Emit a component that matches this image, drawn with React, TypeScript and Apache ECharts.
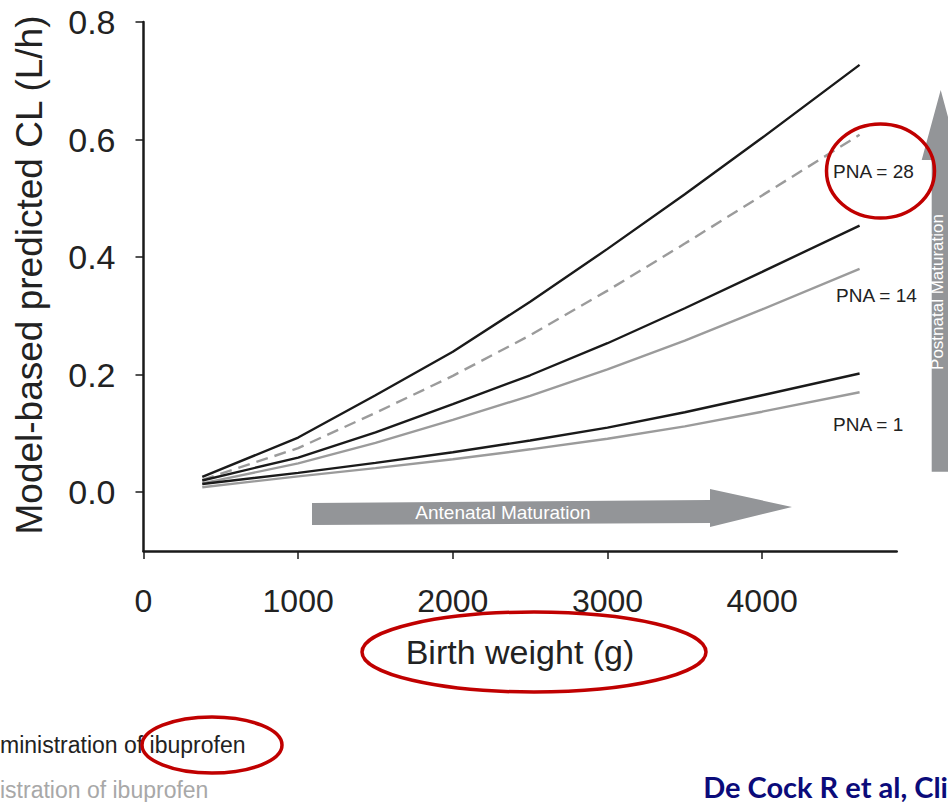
import React, { useEffect, useRef } from "react";
import * as echarts from "echarts";

// Birth weight (g) grid at which the predicted clearance is read
const birthWeight = [380, 1000, 1500, 2000, 2500, 3000, 3500, 4000, 4630];

// Model-based predicted CL (L/h)
const pna28Iv = [0.026, 0.093, 0.165, 0.239, 0.324, 0.414, 0.507, 0.603, 0.727];
const pna28Oral = [0.021, 0.075, 0.135, 0.198, 0.267, 0.343, 0.423, 0.505, 0.608];
const pna14Iv = [0.02, 0.059, 0.102, 0.15, 0.199, 0.2535, 0.313, 0.375, 0.4535];
const pna14Oral = [0.015, 0.049, 0.084, 0.123, 0.164, 0.209, 0.258, 0.311, 0.38];
const pna1Iv = [0.014, 0.033, 0.05, 0.068, 0.088, 0.11, 0.136, 0.165, 0.202];
const pna1Oral = [0.0085, 0.027, 0.041, 0.056, 0.073, 0.091, 0.112, 0.137, 0.17];

const xTicks = [0, 1000, 2000, 3000, 4000];
const yTicks = [0, 0.2, 0.4, 0.6, 0.8];

const pnaLabels = ["PNA = 28", "PNA = 14", "PNA = 1"];

const FONT = "'Liberation Sans', Arial, Helvetica, sans-serif";
const BLACK = "#1a1a1a";
const GREY = "#9b9b9b";
const ARROW = "#939598";
const RED = "#c00000";

const pairs = (ys: number[]) => birthWeight.map((x, i) => [x, ys[i]]);

export default function App() {
  const ref = useRef<HTMLDivElement>(null);

  useEffect(() => {
    if (!ref.current) return;
    const chart = echarts.init(ref.current, undefined, { renderer: "svg" });

    const lineSeries = (name: string, ys: number[], color: string, dashed = false) => ({
      name,
      type: "line",
      data: pairs(ys),
      symbol: "none",
      smooth: false,
      lineStyle: { color, width: 2.4, type: dashed ? [12, 7] : "solid" },
      z: color === BLACK ? 3 : 2,
    });

    chart.setOption({
      animation: false,
      backgroundColor: "#ffffff",
      grid: { left: 143.5, top: 22, right: 51.3, bottom: 251, containLabel: false },
      xAxis: {
        type: "value",
        min: 0,
        max: 4870,
        axisLine: { show: true, onZero: false, lineStyle: { color: BLACK, width: 2.5 } },
        axisTick: {
          show: true,
          customValues: xTicks,
          length: 8,
          lineStyle: { color: BLACK, width: 1.5 },
        },
        axisLabel: {
          customValues: xTicks,
          margin: 34,
          fontSize: 32,
          color: "#222",
          fontFamily: FONT,
          formatter: (v: number) => String(v),
        },
        splitLine: { show: false },
      },
      yAxis: {
        type: "value",
        min: -0.1,
        max: 0.8,
        axisLine: { show: true, onZero: false, lineStyle: { color: BLACK, width: 2.5 } },
        axisTick: {
          show: true,
          customValues: yTicks,
          length: 8,
          lineStyle: { color: BLACK, width: 1.5 },
        },
        axisLabel: {
          customValues: yTicks,
          margin: 28,
          fontSize: 34,
          color: "#222",
          fontFamily: FONT,
          formatter: (v: number) => v.toFixed(1),
        },
        splitLine: { show: false },
      },
      series: [
        lineSeries("PNA 28 IV", pna28Iv, BLACK),
        lineSeries("PNA 28 oral", pna28Oral, GREY, true),
        lineSeries("PNA 14 IV", pna14Iv, BLACK),
        lineSeries("PNA 14 oral", pna14Oral, GREY),
        lineSeries("PNA 1 IV", pna1Iv, BLACK),
        lineSeries("PNA 1 oral", pna1Oral, GREY),
      ],
      graphic: [
        // axis titles
        {
          type: "text",
          x: 29,
          y: 275,
          rotation: Math.PI / 2,
          style: {
            text: "Model-based predicted CL (L/h)",
            fontSize: 37,
            fontFamily: FONT,
            fill: "#222",
            align: "center",
            verticalAlign: "middle",
          },
        },
        {
          type: "text",
          x: 520,
          y: 652,
          style: {
            text: "Birth weight (g)",
            fontSize: 34,
            fontFamily: FONT,
            fill: "#222",
            align: "center",
            verticalAlign: "middle",
          },
        },
        // PNA labels
        {
          type: "text",
          x: 833,
          y: 171,
          style: { text: pnaLabels[0], fontSize: 19, fontFamily: FONT, fill: "#222", align: "left", verticalAlign: "middle" },
        },
        {
          type: "text",
          x: 836,
          y: 295,
          style: { text: pnaLabels[1], fontSize: 19, fontFamily: FONT, fill: "#222", align: "left", verticalAlign: "middle" },
        },
        {
          type: "text",
          x: 833,
          y: 424,
          style: { text: pnaLabels[2], fontSize: 19, fontFamily: FONT, fill: "#222", align: "left", verticalAlign: "middle" },
        },
        // Antenatal maturation arrow
        {
          type: "polygon",
          shape: {
            points: [
              [312, 503],
              [710, 500],
              [710, 489],
              [792, 507],
              [710, 527],
              [710, 523],
              [312, 525],
            ],
          },
          style: { fill: ARROW },
        },
        {
          type: "text",
          x: 503,
          y: 512,
          style: {
            text: "Antenatal Maturation",
            fontSize: 19,
            fontFamily: FONT,
            fill: "#ffffff",
            align: "center",
            verticalAlign: "middle",
          },
        },
        // Postnatal maturation arrow
        {
          type: "polygon",
          shape: {
            points: [
              [931.7, 471.7],
              [931.7, 160],
              [921.7, 160],
              [940.7, 90],
              [959.7, 160],
              [949.7, 160],
              [949.7, 471.7],
            ],
          },
          style: { fill: ARROW },
        },
        {
          type: "text",
          x: 937.5,
          y: 292,
          rotation: Math.PI / 2,
          style: {
            text: "Postnatal Maturation",
            fontSize: 17,
            fontFamily: FONT,
            fill: "#ffffff",
            align: "center",
            verticalAlign: "middle",
          },
        },
        // bottom legend fragments
        {
          type: "text",
          x: 0,
          y: 745,
          style: {
            text: "ministration of ibuprofen",
            fontSize: 23,
            fontFamily: FONT,
            fill: "#222",
            align: "left",
            verticalAlign: "middle",
          },
        },
        {
          type: "text",
          x: 0,
          y: 790,
          style: {
            text: "istration of ibuprofen",
            fontSize: 23,
            fontFamily: FONT,
            fill: "#a8a8a8",
            align: "left",
            verticalAlign: "middle",
          },
        },
        {
          type: "text",
          x: 948,
          y: 786,
          style: {
            text: "De Cock R et al, Cli",
            fontSize: 29,
            fontWeight: "bold",
            fontFamily: "Lato, 'Open Sans', sans-serif",
            fill: "#0b0b7a",
            align: "right",
            verticalAlign: "middle",
          },
        },
        // red highlight ellipses
        {
          type: "ellipse",
          shape: { cx: 880.5, cy: 171, rx: 54, ry: 47 },
          style: { fill: "none", stroke: RED, lineWidth: 3.5 },
          z: 100,
        },
        {
          type: "ellipse",
          shape: { cx: 534, cy: 652, rx: 172, ry: 40 },
          style: { fill: "none", stroke: RED, lineWidth: 3.5 },
          z: 100,
        },
        {
          type: "ellipse",
          shape: { cx: 212, cy: 745, rx: 70, ry: 28 },
          style: { fill: "none", stroke: RED, lineWidth: 3.5 },
          z: 100,
        },
      ],
    });

    return () => chart.dispose();
  }, []);

  return (
    <div
      ref={ref}
      style={{ position: "absolute", left: 0, top: 0, width: 948, height: 802, overflow: "hidden" }}
    />
  );
}
